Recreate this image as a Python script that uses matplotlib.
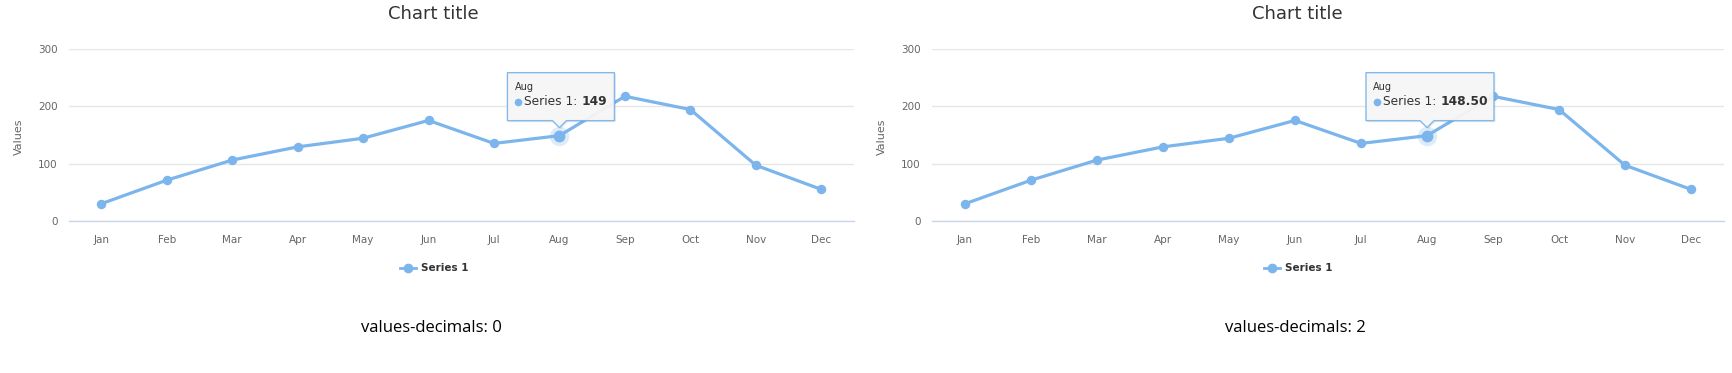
import matplotlib
matplotlib.use("Agg")
import matplotlib.pyplot as plt
import matplotlib.transforms as mtransforms
from matplotlib.patches import Polygon
from decimal import Decimal, ROUND_HALF_UP

months = ["Jan", "Feb", "Mar", "Apr", "May", "Jun", "Jul", "Aug", "Sep", "Oct", "Nov", "Dec"]
series1 = [30, 71, 106, 129, 144, 175, 135, 148.5, 217, 194, 97, 55]
y_ticks = [0, 100, 200, 300]
series_name = "Series 1"
chart_title = "Chart title"
y_title = "Values"
decimals_list = [0, 2]
hover_index = 7

W, H = 1733, 373
DPI = 100
LINE = "#7cb5ec"
GRID = "#e6e6e6"
AXIS = "#ccd6eb"
TXT = "#666666"

plt.rcParams['font.family'] = ['DejaVu Sans']

fig = plt.figure(figsize=(W / DPI, H / DPI), dpi=DPI)

panels = [
    dict(left=68.5, right=854, center=433),
    dict(left=932, right=1724, center=1297),
]
tooltip_boxes = [(-52, 55), (-61, 67)]


def fx(px):
    return px / W


def fy(py):
    return 1 - py / H


def fmt(v, d):
    q = Decimal(1).scaleb(-d)
    return str(Decimal(str(v)).quantize(q, rounding=ROUND_HALF_UP))


top_px, bot_px = 48.6, 221

for p, dec, tb in zip(panels, decimals_list, tooltip_boxes):
    ax = fig.add_axes([fx(p['left']), fy(bot_px), (p['right'] - p['left']) / W, (bot_px - top_px) / H])
    xs = list(range(len(months)))
    ax.plot(xs, series1, color=LINE, lw=2.3, marker='o', ms=5.8, mec=LINE, mfc=LINE,
            solid_capstyle='round', solid_joinstyle='round', zorder=3, clip_on=False)
    hx, hy = xs[hover_index], series1[hover_index]
    ax.plot([hx], [hy], 'o', ms=14, color=LINE, alpha=0.25, mew=0, zorder=4, clip_on=False)
    ax.plot([hx], [hy], 'o', ms=8.5, color=LINE, mew=0, zorder=5, clip_on=False)

    ax.set_xlim(-0.5, len(months) - 0.5)
    ax.set_ylim(y_ticks[0], y_ticks[-1])
    ax.set_yticks(y_ticks)
    ax.set_xticks(xs)
    ax.set_xticklabels(months)
    ax.grid(axis='y', color=GRID, lw=1)
    ax.set_axisbelow(True)
    for s in ['top', 'right', 'left']:
        ax.spines[s].set_visible(False)
    ax.spines['bottom'].set_color(AXIS)
    ax.spines['bottom'].set_linewidth(1)
    ax.tick_params(axis='both', length=0, labelsize=7.5, labelcolor=TXT)
    ax.tick_params(axis='x', pad=10)
    ax.tick_params(axis='y', pad=8)
    ax.set_facecolor('none')

    cx = p['center']
    fig.text(fx(cx), fy(14), chart_title, ha='center', va='center', fontsize=13, color='#333333')
    fig.text(fx(p['left'] - 50), fy(137), y_title, rotation=90, ha='center', va='center',
             fontsize=8, color=TXT)

    # legend
    lg_y = 268
    lx0 = cx - 33
    fig.lines.append(plt.Line2D([fx(lx0), fx(lx0 + 16)], [fy(lg_y), fy(lg_y)], color=LINE, lw=2,
                                transform=fig.transFigure))
    fig.lines.append(plt.Line2D([fx(lx0 + 8)], [fy(lg_y)], color=LINE, marker='o', ms=6,
                                lw=0, transform=fig.transFigure))
    fig.text(fx(lx0 + 21), fy(lg_y), series_name, ha='left', va='center', fontsize=7.5,
             fontweight='bold', color='#333333')

    fig.text(fx(cx - 2), fy(328), f"values-decimals: {dec}", ha='center', va='center',
             fontsize=12, color='black', family=['Open Sans', 'DejaVu Sans'])

    # tooltip
    trans = mtransforms.IdentityTransform() + mtransforms.ScaledTranslation(hx, hy, ax.transData)
    x0, x1 = tb
    y0, y1 = 15, 63
    pts = [(x0, y0), (-7, y0), (0, 8), (7, y0), (x1, y0), (x1, y1), (x0, y1)]
    shadow = Polygon([(a + 1.5, b - 1.5) for a, b in pts], closed=True, transform=trans,
                     facecolor='#000000', alpha=0.08, edgecolor='none', zorder=9, clip_on=False)
    ax.add_patch(shadow)
    poly = Polygon(pts, closed=True, transform=trans, facecolor='#f7f7f7', edgecolor=LINE,
                   lw=1, zorder=10, clip_on=False, alpha=0.95)
    ax.add_patch(poly)
    ax.annotate(months[hover_index], xy=(hx, hy), xytext=(x0 + 7, 49), textcoords='offset pixels',
                fontsize=7, color='#333333', ha='left', va='center', zorder=11,
                annotation_clip=False)
    ax.plot([0], [0], 'o', ms=5.5, color=LINE, mew=0, zorder=11, clip_on=False,
            transform=mtransforms.Affine2D().translate(x0 + 11, 34) + trans)
    t1 = ax.annotate(f"{series_name}: ", xy=(hx, hy), xytext=(x0 + 17, 34),
                     textcoords='offset pixels', fontsize=8.8, color='#333333', ha='left',
                     va='center', zorder=11, annotation_clip=False)
    val = fmt(series1[hover_index], dec)
    ax.annotate(val, xy=(1, 0.5), xycoords=t1, xytext=(0, 0), textcoords='offset pixels',
                fontsize=8.8, fontweight='bold', color='#333333', ha='left', va='center',
                zorder=11, annotation_clip=False)

fig.savefig("out.png", dpi=DPI, facecolor='white')
